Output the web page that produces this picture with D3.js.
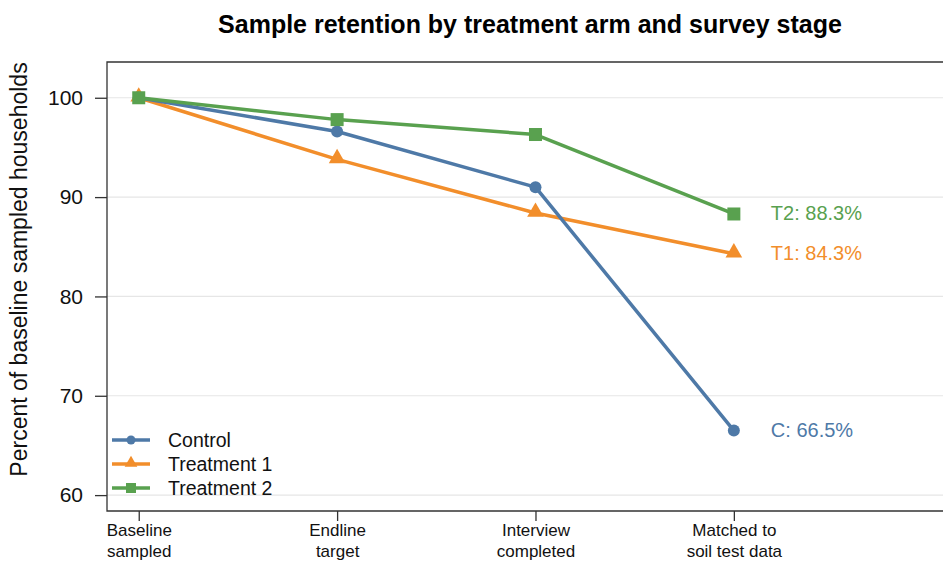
<!DOCTYPE html>
<html><head><meta charset="utf-8">
<script src="https://cdn.jsdelivr.net/npm/d3@7"></script>
<style>body{margin:0;background:#fff;}svg{display:block;font-family:"Liberation Sans",Arial,sans-serif;}</style>
</head><body>
<svg id="chart" width="943" height="564"></svg>
<script>
const stages = ["Baseline\nsampled", "Endline\ntarget", "Interview\ncompleted", "Matched to\nsoil test data"];
const controlVals = [100, 96.6, 91.0, 66.5];
const t1Vals = [100, 93.8, 88.4, 84.3];
const t2Vals = [100, 97.8, 96.3, 88.3];
const seriesNames = ["Control", "Treatment 1", "Treatment 2"];
const endLabels = ["C: 66.5%", "T1: 84.3%", "T2: 88.3%"];
const yTicks = [60, 70, 80, 90, 100];

const colors = ["#4e79a7", "#f28e2b", "#59a14f"];
const series = [controlVals, t1Vals, t2Vals].map((v, i) => ({name: seriesNames[i], vals: v, color: colors[i], label: endLabels[i], shape: i}));

const svg = d3.select("#chart");
const L = 107, R = 960, T = 62, B = 511;
const x = d3.scaleLinear().domain([-0.16, 4.14]).range([L, R]);
const y = d3.scaleLinear().domain([58.4, 103.6]).range([B, T]);

// title
svg.append("text").attr("x", 530).attr("y", 33).attr("text-anchor", "middle")
  .attr("font-size", 25).attr("font-weight", "bold").attr("fill", "#000")
  .text("Sample retention by treatment arm and survey stage");

// grid
svg.append("g").selectAll("line").data(yTicks).join("line")
  .attr("x1", L).attr("x2", 943).attr("y1", d => y(d)).attr("y2", d => y(d))
  .attr("stroke", "#e6e6e6").attr("stroke-width", 1.2);

// frame (top, left, bottom)
svg.append("path").attr("d", `M943,${T}H${L}V${B}H943`).attr("fill", "none").attr("stroke", "#333").attr("stroke-width", 1.3);

// y axis
const yAxis = d3.axisLeft(y).tickValues(yTicks).tickSize(12).tickPadding(12);
const gy = svg.append("g").attr("transform", `translate(${L},0)`).call(yAxis);
gy.select(".domain").remove();
gy.selectAll(".tick line").attr("stroke", "#333").attr("stroke-width", 1.3);
gy.selectAll(".tick text").attr("font-size", 21).attr("fill", "#111").attr("font-family", "Liberation Sans, Arial, sans-serif");

// x axis
const xAxis = d3.axisBottom(x).tickValues(d3.range(stages.length)).tickSize(10).tickFormat("");
const gx = svg.append("g").attr("transform", `translate(0,${B})`).call(xAxis);
gx.select(".domain").remove();
gx.selectAll(".tick line").attr("stroke", "#333").attr("stroke-width", 1.3);
gx.selectAll(".tick").each(function(d) {
  const t = d3.select(this).append("text").attr("text-anchor", "middle").attr("fill", "#111")
    .attr("font-size", 17).attr("font-family", "Liberation Sans, Arial, sans-serif");
  stages[d].split("\n").forEach((s, k) => t.append("tspan").attr("x", 0).attr("y", 25 + k * 21).text(s));
});

// y label
svg.append("text").attr("transform", `translate(27,${(T + B) / 2 - 17}) rotate(-90)`).attr("text-anchor", "middle")
  .attr("font-size", 23).attr("fill", "#111").text("Percent of baseline sampled households");

function marker(g, shape, color, cx, cy) {
  if (shape === 0) g.append("circle").attr("cx", cx).attr("cy", cy).attr("r", 6).attr("fill", color);
  else if (shape === 1) g.append("path").attr("d", d3.symbol().type(d3.symbolTriangle).size(120)()).attr("transform", `translate(${cx},${cy - 1})`).attr("fill", color);
  else g.append("rect").attr("x", cx - 6.5).attr("y", cy - 6.5).attr("width", 13).attr("height", 13).attr("fill", color);
}

const line = d3.line().x((d, i) => x(i)).y(d => y(d));
[1, 0, 2].forEach(i => {
  const s = series[i];
  const g = svg.append("g");
  g.append("path").attr("d", line(s.vals)).attr("fill", "none").attr("stroke", s.color).attr("stroke-width", 3.5).attr("stroke-linejoin", "round");
  s.vals.forEach((v, j) => marker(g, s.shape, s.color, x(j), y(v)));
  svg.append("text").attr("x", x(3) + 37).attr("y", y(s.vals[3]) + 6).attr("font-size", 20).attr("fill", s.color).text(s.label);
});

// legend
const lg = svg.append("g");
series.forEach((s, i) => {
  const cy = 440 + i * 24;
  lg.append("line").attr("x1", 112).attr("x2", 150).attr("y1", cy).attr("y2", cy).attr("stroke", s.color).attr("stroke-width", 3.5);
  const mg = lg.append("g");
  if (s.shape === 0) mg.append("circle").attr("cx", 131).attr("cy", cy).attr("r", 4.5).attr("fill", s.color);
  else if (s.shape === 1) mg.append("path").attr("d", d3.symbol().type(d3.symbolTriangle).size(70)()).attr("transform", `translate(131,${cy - 1})`).attr("fill", s.color);
  else mg.append("rect").attr("x", 126).attr("y", cy - 5).attr("width", 10).attr("height", 10).attr("fill", s.color);
  lg.append("text").attr("x", 168).attr("y", cy + 7).attr("font-size", 19.5).attr("fill", "#111").text(s.name);
});
</script>
</body></html>
